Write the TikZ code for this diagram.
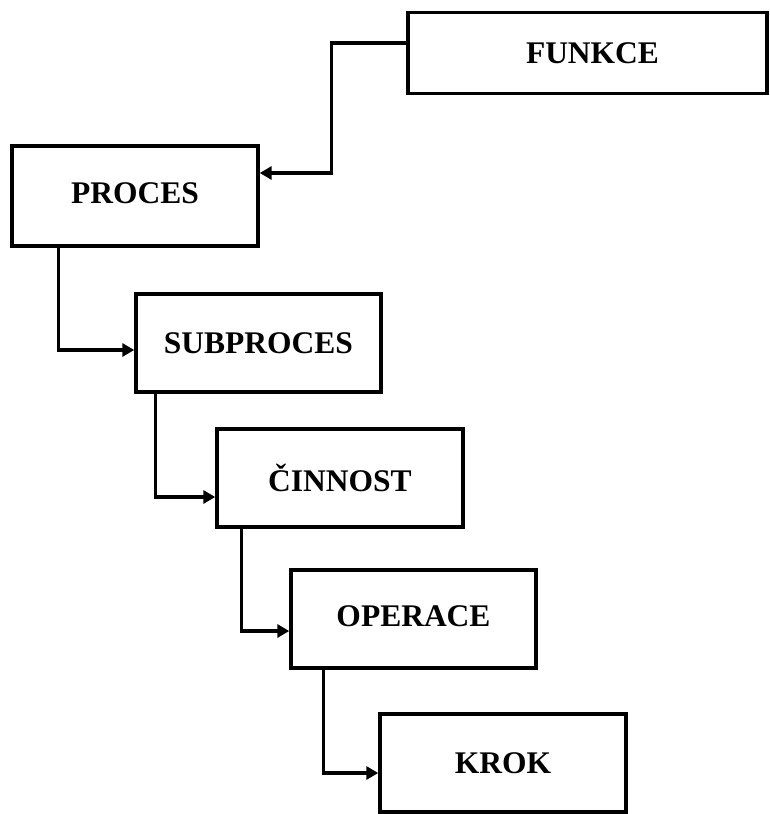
\documentclass[tikz,border=0pt]{standalone}
\usepackage{fontspec}
\setmainfont{Liberation Serif}
\usetikzlibrary{arrows.meta,calc}
\begin{document}
\begin{tikzpicture}[x=1pt,y=-1pt,
  level/.style={draw=black,line width=3.4pt,fill=white,rectangle,inner sep=0pt,
    font=\fontsize{31.5}{36}\selectfont\bfseries},
  link/.style={line width=3.2pt,-{Triangle[length=12pt,width=13pt]}}]
\useasboundingbox (0,0) rectangle (770,814);
% hierarchy boxes, each one step further right and down
\node[level,minimum width=359pt,minimum height=81pt] (funkce) at (587.5,53) {\hspace{10pt}FUNKCE};
\node[level,minimum width=246pt,minimum height=100pt] (proces) at (135,196) {PROCES\rule[-6pt]{0pt}{1pt}};
\node[level,minimum width=245pt,minimum height=98pt] (subproces) at (258.5,343) {SUBPROCES};
\node[level,minimum width=246pt,minimum height=98pt] (cinnost) at (340,478) {ČINNOST};
\node[level,minimum width=245pt,minimum height=98pt] (operace) at (413.5,619) {OPERACE\rule[-5pt]{0pt}{1pt}};
\node[level,minimum width=246pt,minimum height=98pt] (krok) at (503,763) {KROK};
% connectors
\draw[link] ($(funkce.west)+(0,-10)$) -- ++(-75,0) |- ($(proces.east)+(0,-23)$);
\draw[link] ($(proces.south west)+(48,0)$) |- ($(subproces.west)+(0,7)$);
\draw[link] ($(subproces.south west)+(21,0)$) |- ($(cinnost.west)+(0,19)$);
\draw[link] ($(cinnost.south west)+(26,0)$) |- ($(operace.west)+(0,12)$);
\draw[link] ($(operace.south west)+(34,0)$) |- ($(krok.west)+(0,10)$);
\end{tikzpicture}
\end{document}
